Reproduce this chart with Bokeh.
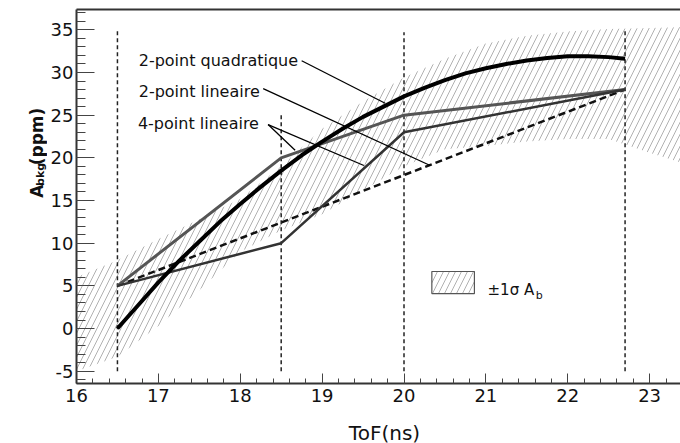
from math import pi
from bokeh.plotting import figure
from bokeh.layouts import row, column
from bokeh.models import (Range1d, SingleIntervalTicker, FixedTicker, Label, LinearAxis,
                          PrintfTickFormatter)
from bokeh.embed import file_html
from bokeh.resources import INLINE

# ---------------- data ----------------
# ±1 sigma band of A_b
band_x = [16.0, 16.5, 17.0, 17.5, 18.0, 18.5, 19.0, 19.5, 20.0, 20.5, 21.0, 21.5, 22.0, 22.5, 23.0, 23.4]
band_hi = [6.0, 8.0, 10.5, 12.8, 15.2, 19.0, 23.4, 26.6, 29.4, 31.6, 33.4, 34.3, 34.8, 35.1, 35.2, 35.3]
band_lo = [-5.0, -3.3, 0.3, 4.5, 9.0, 11.5, 13.4, 16.2, 19.0, 21.0, 21.4, 21.9, 22.2, 22.2, 20.6, 19.4]

# 2-point quadratique
quad_x = [16.5, 16.75, 17.0, 17.25, 17.5, 17.75, 18.0, 18.25, 18.5, 18.75, 19.0, 19.25, 19.5,
          19.75, 20.0, 20.25, 20.5, 20.75, 21.0, 21.25, 21.5, 21.75, 22.0, 22.25, 22.5, 22.7]
quad_y = [0.0, 2.7, 5.4, 7.9, 10.2, 12.5, 14.6, 16.6, 18.5, 20.3, 21.9, 23.4, 24.8,
          26.0, 27.2, 28.2, 29.1, 29.9, 30.5, 31.0, 31.4, 31.7, 31.9, 31.9, 31.8, 31.6]

# 4-point lineaire (two variants)
lin4_x = [16.5, 18.5, 20.0, 22.7]
lin4a_y = [5.0, 20.0, 25.0, 28.0]
lin4b_y = [5.0, 10.0, 23.0, 28.0]

# 2-point lineaire
lin2_x = [16.5, 22.7]
lin2_y = [5.0, 28.0]

# vertical guide lines
guide_x = [16.5, 18.5, 20.0, 22.7]
guide_top = [35.0, 25.0, 34.7, 35.0]
guide_bot = [-5.0, -5.0, -5.0, -5.0]

# annotation texts
labels = ["2-point quadratique", "2-point lineaire", "4-point lineaire"]
label_x = [16.76, 16.76, 16.75]
label_y = [31.35, 27.81, 24.06]

# pointer lines
ptr_x0 = [18.75, 18.28, 18.34, 18.34]
ptr_y0 = [31.37, 28.10, 23.90, 23.90]
ptr_x1 = [19.77, 20.32, 18.67, 19.51]
ptr_y1 = [26.40, 19.10, 20.90, 19.10]

x_title = "ToF(ns)"
y_label_parts = ["A", "bkg", "(ppm)"]
legend_parts = ["±1σ A", "b"]

FONT = "DejaVu Sans"
INK = "#111111"
HATCH = dict(hatch_pattern="/", hatch_color="#a8a8a8", hatch_weight=0.9, hatch_scale=12)


def bare(width, height):
    f = figure(width=width, height=height, output_backend="svg", toolbar_location=None,
               x_range=Range1d(0, width), y_range=Range1d(height, 0),
               x_axis_type=None, y_axis_type=None,
               min_border_left=0, min_border_right=0, min_border_top=0, min_border_bottom=0)
    f.outline_line_color = None
    f.grid.visible = False
    f.border_fill_color = "white"
    f.background_fill_color = "white"
    return f


# ---------------- main plot ----------------
p = figure(width=633, height=413, output_backend="svg", toolbar_location=None,
           x_range=Range1d(16.0, 23.377), y_range=Range1d(-6.44, 37.38),
           min_border_left=28, min_border_right=0, min_border_top=9, min_border_bottom=30)
p.outline_line_color = None
p.grid.visible = False
p.background_fill_color = "white"
p.border_fill_color = "white"

p.varea(x=band_x, y1=band_lo, y2=band_hi, fill_alpha=0.0, **HATCH)

p.segment(x0=guide_x, y0=guide_bot, x1=guide_x, y1=guide_top,
          line_color="#222222", line_width=1.5, line_dash="4 3")

p.line(lin2_x, lin2_y, line_color="#111111", line_width=2.5, line_dash="7 4")
p.line(lin4_x, lin4a_y, line_color="#555555", line_width=3)
p.line(lin4_x, lin4b_y, line_color="#333333", line_width=2.5)
p.line(quad_x, quad_y, line_color="#000000", line_width=4)

p.segment(x0=ptr_x0, y0=ptr_y0, x1=ptr_x1, y1=ptr_y1, line_color="#000000", line_width=1.3)

for t, x, y in zip(labels, label_x, label_y):
    p.add_layout(Label(x=x, y=y, text=t, text_font=FONT, text_font_size="16px",
                       text_color=INK, text_baseline="alphabetic", text_align="left"))

# legend
p.quad(left=[20.34], right=[20.86], bottom=[4.10], top=[6.68], fill_alpha=0.0,
       line_color="#555555", line_width=1.2, **HATCH)
p.add_layout(Label(x=21.02, y=4.54, text=legend_parts[0], text_font=FONT, text_font_size="15px",
                   text_color=INK, text_baseline="alphabetic"))
p.add_layout(Label(x=21.61, y=3.87, text=legend_parts[1], text_font=FONT, text_font_size="11px",
                   text_color=INK, text_baseline="alphabetic"))

bottom_ax = p.below[0]
left_ax = p.left[0]

bottom_ax.ticker = SingleIntervalTicker(interval=1, num_minor_ticks=5)
bottom_ax.major_tick_in = 10
bottom_ax.minor_tick_in = 5
bottom_ax.major_label_standoff = 5
left_ax.ticker = SingleIntervalTicker(interval=5, num_minor_ticks=5)
left_ax.major_tick_in = 18
left_ax.minor_tick_in = 9
left_ax.major_label_standoff = 3
for ax in [bottom_ax, left_ax]:
    ax.formatter = PrintfTickFormatter(format="%d")
    ax.major_tick_out = 0
    ax.minor_tick_out = 0
    ax.axis_line_width = 2
    ax.axis_line_color = "#333333"
    ax.major_tick_line_color = "#444444"
    ax.minor_tick_line_color = "#444444"
    ax.major_label_text_font = FONT
    ax.major_label_text_font_size = "18px"
    ax.major_label_text_color = INK

# top frame line
top_ax = LinearAxis(ticker=FixedTicker(ticks=[]), major_tick_in=0, major_tick_out=0,
                    minor_tick_in=0, minor_tick_out=0, major_label_standoff=0,
                    major_label_text_font_size="0px", axis_line_width=2,
                    axis_line_color="#333333")
p.add_layout(top_ax, "above")

# ---------------- y title strip ----------------
yfig = bare(47, 413)
yfig.add_layout(Label(x=36, y=208, text=y_label_parts[0], angle=pi / 2, text_font=FONT,
                      text_font_size="17px", text_font_style="bold", text_color=INK,
                      text_baseline="middle", text_align="left"))
yfig.add_layout(Label(x=40, y=194.8, text=y_label_parts[1], angle=pi / 2, text_font=FONT,
                      text_font_size="11px", text_font_style="bold", text_color=INK,
                      text_baseline="middle", text_align="left"))
yfig.add_layout(Label(x=36, y=172.0, text=y_label_parts[2], angle=pi / 2, text_font=FONT,
                      text_font_size="17px", text_font_style="bold", text_color=INK,
                      text_baseline="middle", text_align="left"))

# ---------------- x title strip ----------------
xfig = bare(680, 30)
xfig.add_layout(Label(x=384, y=19, text=x_title, text_font=FONT, text_font_size="20px",
                      text_color=INK, text_align="center", text_baseline="alphabetic"))

layout = column(row(yfig, p, spacing=0), xfig, spacing=0)
open("out.html", "w").write(file_html(layout, INLINE))
